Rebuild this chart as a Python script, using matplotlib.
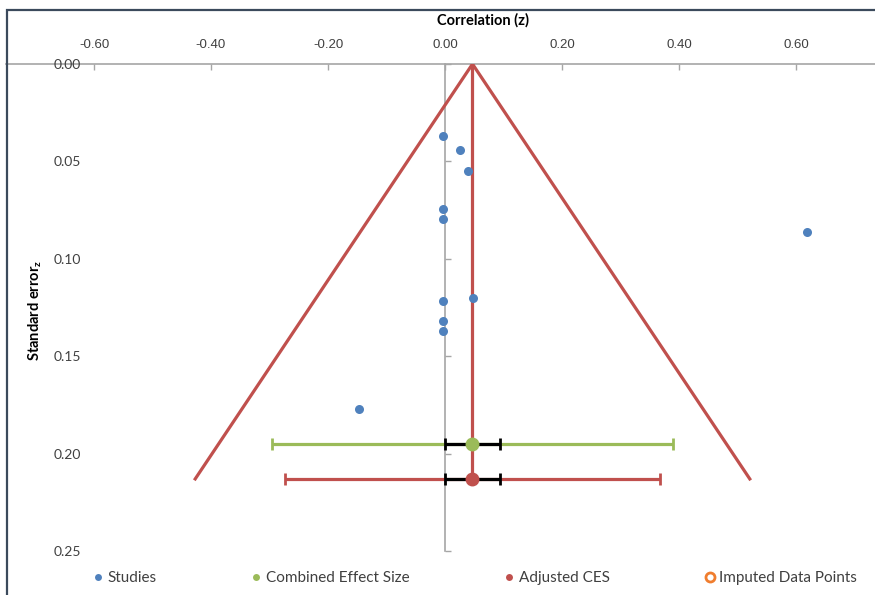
import matplotlib
matplotlib.use("Agg")
import matplotlib.pyplot as plt
from matplotlib.lines import Line2D
from matplotlib.patches import Rectangle

plt.rcParams['font.family'] = ['Lato', 'DejaVu Sans']

# studies (z, standard error)
study_z = [-0.003, 0.025, 0.039, -0.003, -0.003, 0.619, 0.048, -0.003, -0.003, -0.003, -0.147]
study_se = [0.0368, 0.0443, 0.0551, 0.0746, 0.0797, 0.0862, 0.1203, 0.1218, 0.1319, 0.1371, 0.177]

# combined effect size and adjusted CES
ces_z = 0.047
ces_se = 0.195
ces_ci = 0.343      # outer half width
adj_z = 0.047
adj_se = 0.213
adj_ci = 0.320
inner_ci = 0.047    # black inner bar half width

# funnel (left bottom, apex, right bottom)
funnel_z = [-0.427, 0.047, 0.521]
funnel_se = [0.213, 0.0, 0.213]

xticks = [-0.6, -0.4, -0.2, 0.0, 0.2, 0.4, 0.6]
yticks = [0.0, 0.05, 0.10, 0.15, 0.20, 0.25]

blue = '#4F81BD'
red = '#C0504D'
green = '#9BBB59'
orange = '#F07D2E'
grey = '#A6A6A6'
txt = '#404040'

W, H = 875, 595
fig = plt.figure(figsize=(W / 100, H / 100), dpi=100)
ax = fig.add_axes([6.25 / W, 44 / H, 877.5 / W, 487 / H])

ax.set_xlim(-0.75, 0.75)
ax.set_ylim(0.25, 0.0)

# funnel and adjusted line
ax.plot(funnel_z, funnel_se, color=red, lw=2.3, zorder=3)
ax.plot([adj_z, adj_z], [0, adj_se], color=red, lw=2.3, zorder=3)

# outer CI bars
ax.errorbar([ces_z], [ces_se], xerr=[ces_ci], fmt='none', ecolor=green,
            elinewidth=2.3, capsize=4, capthick=2, zorder=4)
ax.errorbar([adj_z], [adj_se], xerr=[adj_ci], fmt='none', ecolor=red,
            elinewidth=2.3, capsize=4, capthick=2, zorder=4)
# inner black bars
ax.errorbar([ces_z, adj_z], [ces_se, adj_se], xerr=[inner_ci, inner_ci], fmt='none',
            ecolor='black', elinewidth=2.3, capsize=4, capthick=2, zorder=5)

ax.plot([ces_z], [ces_se], 'o', color=green, ms=9, zorder=6)
ax.plot([adj_z], [adj_se], 'o', color=red, ms=9, zorder=6)

ax.plot(study_z, study_se, 'o', color=blue, ms=6.5, mec='none', zorder=6)

# axes styling
for s in ['right', 'bottom']:
    ax.spines[s].set_visible(False)
ax.spines['left'].set_position(('data', 0))
for s in ['left', 'top']:
    ax.spines[s].set_color(grey)
    ax.spines[s].set_linewidth(1.2)
    ax.spines[s].set_zorder(1)

ax.xaxis.tick_top()
ax.set_xticks(xticks)
ax.set_xticklabels(['%.2f' % v for v in xticks], fontfamily='Liberation Sans', fontsize=9.5, color=txt)
ax.tick_params(axis='x', direction='in', length=4, width=1, color=grey, pad=9)

ax.set_yticks(yticks)
ax.set_yticklabels(['%.2f' % v for v in yticks], fontsize=10, color=txt)
ax.tick_params(axis='y', direction='in', length=4, width=1, color=grey, pad=262)

fig.text(483 / W, 1 - 20 / H, 'Correlation (z)', ha='center', va='center',
         fontsize=10.5, fontweight='bold', color='black')
fig.text(35 / W, 1 - 310 / H, r'Standard error$_\mathregular{z}$', ha='center', va='center',
         rotation=90, fontsize=10.5, fontweight='bold', color='black')

handles = [
    Line2D([], [], ls='none', marker='o', color=blue, ms=5, mec='none'),
    Line2D([], [], ls='none', marker='o', color=green, ms=5, mec='none'),
    Line2D([], [], ls='none', marker='o', color=red, ms=5, mec='none'),
    Line2D([], [], ls='none', marker='o', mfc='white', mec=orange, mew=2, ms=6.5),
]
labels = ['Studies', 'Combined Effect Size', 'Adjusted CES', 'Imputed Data Points']
fig.legend(handles, labels, loc='center', bbox_to_anchor=(475 / W, 1 - 578 / H), ncol=4,
           frameon=False, handlelength=0.65, handletextpad=0.3, columnspacing=6.2,
           prop={'size': 11}, labelcolor=txt)

# chart area border
fig.add_artist(Rectangle((7 / W, -0.1), 2, 1 - 10 / H + 0.1, transform=fig.transFigure,
                         fill=False, ec='#3B4A5C', lw=1.6))

fig.savefig('out.png', dpi=100, facecolor='white')
